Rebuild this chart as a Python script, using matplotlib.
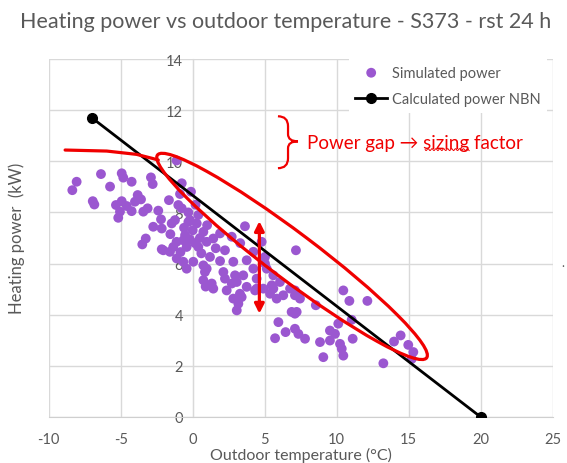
import numpy as np
import matplotlib
matplotlib.use("Agg")
import matplotlib.pyplot as plt
from matplotlib.patches import Ellipse, PathPatch
from matplotlib.path import Path
from matplotlib.transforms import ScaledTranslation

plt.rcParams['font.family'] = ['Lato', 'DejaVu Sans']
plt.rcParams['axes.unicode_minus'] = False

# ---------------- data ----------------
sim_temp = [
    -8.06, -8.36, -6.37, -5.74, -6.94, -6.83, -4.93, -4.82, -4.24, -2.90, -2.78, -1.65,
    -3.82, -3.59, -4.01, -4.93, -5.33, -4.58, -5.05, -5.17, -4.24, -3.43, -3.13, -2.39,
    -2.74, -2.15, -2.20, -3.26, -3.50, -2.15, -1.58,
    -1.12, -0.76, -0.12, -0.88, -1.00, -0.76, -1.46, -1.23, -0.30, 0.28, 0.74, -0.53,
    -1.12, -1.35, -2.04, -0.42, 0.39, 0.97, 1.43, 1.90, 2.71, 2.24, 1.20, -0.65, 0.04,
    -0.42, 0.97, -0.19, 0.39, 3.63, 2.82, 3.75, 4.21, 0.16, -0.65, -1.11, 0.74, 1.90,
    -0.30, 0.20, -0.60, 0.00, 0.50, -0.20, 1.00, 0.60, 1.60, -0.85, -1.55, 3.30,
    0.85, 2.13, 2.94, 3.51, 0.74, 1.32, 1.43, 2.24, 2.71, 3.06, 3.75, 2.36, 3.28, 3.40,
    2.82, 3.17, 3.06, 4.44, 5.14, 5.60, 6.06, 5.60, 5.37, 5.83, 6.29, 6.76, 7.10, 5.95,
    6.45, 5.72, 7.10, 7.34, 7.80, 7.22, 4.79, 7.17, 4.21, 5.02, 5.02, 5.49, 4.90, 4.44,
    4.33, 7.22, 7.45, 6.87, 7.10, 8.55, 7.10, 10.46, 10.88, 12.13, 11.04, 10.11, 9.53,
    9.88, 8.84, 9.53, 10.23, 10.35, 10.46, 9.07, 11.11, 13.24, 13.98, 14.44, 14.97,
    15.32, 15.21, 0.90,
]
sim_power = [
    9.20, 8.87, 9.50, 9.01, 8.44, 8.31, 9.53, 9.36, 9.20, 9.37, 9.11, 8.48,
    8.68, 8.51, 8.42, 8.44, 8.29, 8.25, 8.03, 7.79, 8.05, 8.03, 8.16, 8.07,
    7.44, 7.37, 7.73, 6.98, 6.75, 6.56, 6.46,
    10.03, 9.14, 8.81, 8.72, 8.29, 8.16, 7.57, 7.70, 7.63, 7.57, 7.24, 7.11,
    6.85, 6.65, 6.52, 6.65, 6.65, 6.85, 6.98, 7.18, 7.05, 6.52, 6.26, 6.07, 6.07,
    5.80, 5.80, 7.70, 7.90, 7.46, 6.07, 6.13, 6.46, 6.80, 6.91, 6.20, 5.93, 6.10,
    8.00, 8.30, 7.40, 7.30, 7.00, 6.95, 7.50, 6.40, 6.60, 6.45, 7.15, 6.80,
    5.67, 5.67, 5.54, 5.54, 5.35, 5.22, 5.02, 5.41, 5.22, 5.28, 5.09, 4.95, 4.82, 4.69,
    4.63, 4.43, 4.17, 5.02, 5.80, 5.54, 5.28, 5.02, 4.82, 4.63, 4.76, 5.02, 4.76, 3.71,
    3.32, 3.08, 3.45, 3.25, 3.06, 4.11, 6.85, 6.52, 5.80, 6.26, 6.00, 5.15, 5.02, 5.41,
    4.95, 4.82, 4.63, 4.11, 4.04, 4.37, 4.95, 4.95, 4.54, 4.54, 3.80, 3.65, 3.38,
    3.25, 2.93, 2.99, 2.86, 2.67, 2.40, 2.34, 3.06, 2.10, 2.95, 3.19, 2.82,
    2.54, 2.27, 5.10,
]
calc_temp = [-7, 20]
calc_power = [11.7, 0]

x_ticks = [-10, -5, 0, 5, 10, 15, 20, 25]
y_ticks = [0, 2, 4, 6, 8, 10, 12, 14]

title = "Heating power vs outdoor temperature - S373 - rst 24 h"
x_label = "Outdoor temperature (°C)"
y_label = "Heating power  (kW)"
series_labels = ["Simulated power", "Calculated power NBN"]
note = "Power gap \u2192 sizing factor"

# ---------------- figure ----------------
W, H = 567, 464
fig = plt.figure(figsize=(W / 100, H / 100), dpi=100)
ax = fig.add_axes([48.7 / W, (H - 418) / H, (552.7 - 48.7) / W, (418 - 60) / H])
ax.set_xlim(-10, 25)
ax.set_ylim(0, 14)
ax.set_xticks(x_ticks)
ax.set_yticks(y_ticks)
ax.grid(True, color='#D9D9D9', lw=1)
ax.set_axisbelow(True)
for s in ['top', 'right']:
    ax.spines[s].set_visible(False)
ax.spines['left'].set_position(('data', 0))
ax.spines['left'].set_color('#D9D9D9')
ax.spines['bottom'].set_color('#CFCFCF')
ax.spines['left'].set_zorder(0.5)
ax.tick_params(length=0, labelcolor='#595959', labelsize=10.5)
ax.tick_params(axis='y', pad=7)
ax.tick_params(axis='x', pad=11)

purple = '#9B57D0'
ax.scatter(sim_temp, sim_power, s=50, color=purple, edgecolors='none', zorder=2,
           label=series_labels[0])
ax.plot(calc_temp, calc_power, color='black', lw=2, marker='o', ms=7, zorder=3,
        label=series_labels[1])

leg = ax.legend(loc='upper left', bbox_to_anchor=(0.595, 1.0), frameon=True,
                facecolor='white', edgecolor='none', framealpha=1, fancybox=False,
                fontsize=10.5, labelcolor='#595959', handlelength=2.2,
                handletextpad=0.3, labelspacing=0.85, borderaxespad=0,
                scatterpoints=1, borderpad=0.45)
leg.set_zorder(6)

red = '#F00000'
# ellipse (drawn in pixel units around a data centre)
trans = fig.dpi_scale_trans + ScaledTranslation(6.9, 6.28, ax.transData)
ell = Ellipse((0, 0), width=3.37, height=0.47, angle=-37, transform=trans,
              fill=False, edgecolor=red, lw=2.3, zorder=5)
ax.add_patch(ell)
# hand-drawn lead-in curve
cx = [-8.86, -5.97, -3.89, -2.85, -2.39]
cy = [10.44, 10.40, 10.27, 10.12, 10.05]
ax.plot(cx, cy, color=red, lw=2.3, zorder=5, solid_capstyle='round')
# double arrow
ax.annotate('', xy=(4.63, 7.66), xytext=(4.63, 4.04),
            arrowprops=dict(arrowstyle='<|-|>', color=red, lw=2.3,
                            mutation_scale=14, shrinkA=0, shrinkB=0), zorder=5)
# brace
bv = [(5.92, 11.76), (6.62, 11.76), (6.62, 11.37), (6.62, 11.06),
      (6.62, 10.78), (7.31, 10.78), (6.62, 10.78), (6.62, 10.51),
      (6.62, 10.12), (6.62, 9.73), (5.92, 9.73)]
bc = [Path.MOVETO, Path.CURVE3, Path.CURVE3, Path.LINETO,
      Path.CURVE3, Path.CURVE3, Path.CURVE3, Path.CURVE3,
      Path.LINETO, Path.CURVE3, Path.CURVE3]
ax.add_patch(PathPatch(Path(bv, bc), fill=False, edgecolor=red, lw=1.6, zorder=5))
nfs = 13.5
t = ax.text(7.94, 10.75, note, color=red, fontsize=nfs, va='center', ha='left', zorder=6)

# spell-check squiggle under "sizing"
fig.canvas.draw()
r = fig.canvas.get_renderer()
tmp = ax.text(7.94, 10.75, "Power gap \u2192 ", fontsize=nfs, va='center', ha='left')
x0 = tmp.get_window_extent(r).x1
tmp.set_text("Power gap \u2192 sizing")
x1 = tmp.get_window_extent(r).x1
tmp.remove()
yb = t.get_window_extent(r).y0 + 1
xs = np.linspace(x0 + 2, x1, 60)
ys = yb + 1.0 * np.sin((xs - x0) * 1.6)
inv = ax.transData.inverted()
pts = inv.transform(np.column_stack([xs, ys]))
ax.plot(pts[:, 0], pts[:, 1], color=red, lw=0.7, zorder=6)

fig.text(286 / W, 1 - 22 / H, title, ha='center', va='center', fontsize=15.5, color='#595959')
fig.text(17 / W, 1 - 238 / H, y_label, ha='center', va='center', rotation=90,
         fontsize=12, color='#595959')
fig.text(300.7 / W, 1 - 455 / H, x_label, ha='center', va='center', fontsize=11.5,
         color='#595959')
fig.text(563 / W, 1 - 263 / H, ".", ha='center', va='center', fontsize=9, color='#595959')

fig.savefig("out.png", dpi=100)
